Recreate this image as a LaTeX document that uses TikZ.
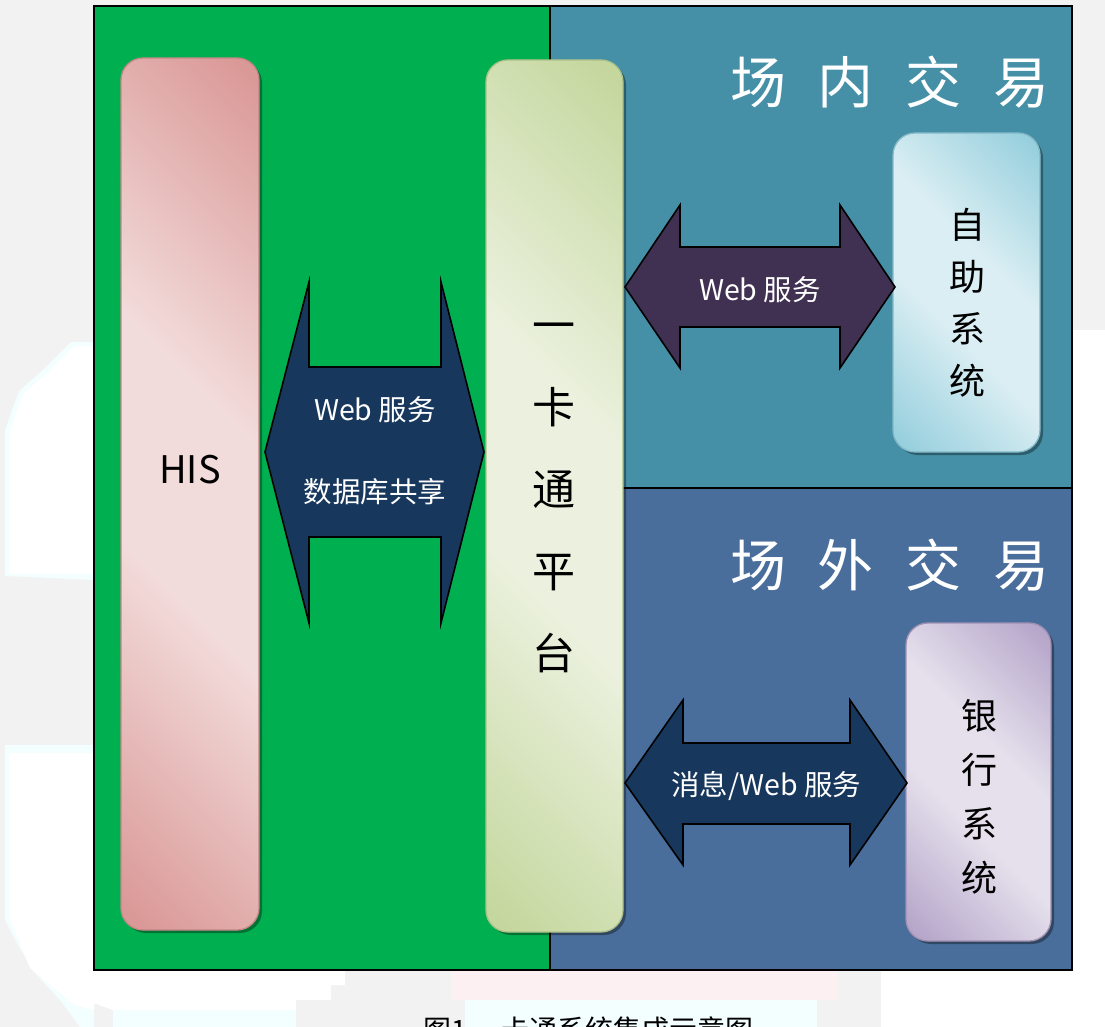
\documentclass[tikz,border=0pt]{standalone}
\usepackage{fontspec}
\setmainfont{Noto Sans CJK SC}
\usetikzlibrary{shadows}
\definecolor{bggray}{HTML}{F2F2F2}
\definecolor{zonegreen}{HTML}{00B050}
\definecolor{zoneteal}{HTML}{4590A6}
\definecolor{zoneblue}{HTML}{4A6E9B}
\definecolor{hisdark}{HTML}{D99694}
\definecolor{hislight}{HTML}{F2DCDB}
\definecolor{platdark}{HTML}{C3D69B}
\definecolor{platlight}{HTML}{EBF1DE}
\definecolor{selfdark}{HTML}{92CDDC}
\definecolor{selflight}{HTML}{DAEEF3}
\definecolor{bankdark}{HTML}{B2A1C7}
\definecolor{banklight}{HTML}{E5E0EC}
\definecolor{arrnavy}{HTML}{17375D}
\definecolor{arrpurple}{HTML}{403152}
\definecolor{blobpink}{HTML}{FDF0F3}
\definecolor{blobcyan}{HTML}{F3FEFE}
\pgfdeclareverticalshading{hisshade}{100bp}{color(0bp)=(hisdark); color(15bp)=(hisdark); color(42bp)=(hislight); color(58bp)=(hislight); color(85bp)=(hisdark); color(100bp)=(hisdark)}
\pgfdeclareverticalshading{platshade}{100bp}{color(0bp)=(platdark); color(15bp)=(platdark); color(42bp)=(platlight); color(58bp)=(platlight); color(85bp)=(platdark); color(100bp)=(platdark)}
\pgfdeclareverticalshading{selfshade}{100bp}{color(0bp)=(selfdark); color(15bp)=(selfdark); color(42bp)=(selflight); color(58bp)=(selflight); color(85bp)=(selfdark); color(100bp)=(selfdark)}
\pgfdeclareverticalshading{bankshade}{100bp}{color(0bp)=(bankdark); color(15bp)=(bankdark); color(42bp)=(banklight); color(58bp)=(banklight); color(85bp)=(bankdark); color(100bp)=(bankdark)}
\begin{document}
\begin{tikzpicture}[x=1pt,y=-1pt,
  cardbox/.style 2 args={draw=#2, line width=1.3pt, rounded corners=22pt, inner sep=0pt,
     shade, shading=#1, shading angle=-45,
     drop shadow={shadow xshift=3pt, shadow yshift=-3pt, opacity=0.35, fill=black}},
  dblarrow/.style={draw=black, line width=1.6pt, line join=miter},
  wlabel/.style={text=white, inner sep=0pt, font=\fontsize{28.5}{30}\selectfont},
  title/.style={text=white, inner sep=0pt, font=\fontsize{56}{60}\selectfont},
  blob/.style={fill=white, draw=none}]
\useasboundingbox (0,0) rectangle (1105,1027);
% background
\fill[bggray] (0,0) rectangle (1105,1027);
\fill[blobcyan] (5,576) -- (5,430) -- (19,391) -- (45,368) -- (71,342) -- (94,342) -- (94,580) -- cycle;
\fill[blob] (9,574) -- (9,434) -- (22,395) -- (48,372) -- (74,346) -- (94,346) -- (94,574) -- cycle;
\fill[blobcyan] (5,745) -- (94,745) -- (94,1027) -- (80,1027) -- (60,1000) -- (34,972) -- (18,945) -- (5,920) -- cycle;
\fill[blob] (9,753) -- (94,753) -- (94,1010) -- (75,1005) -- (50,985) -- (30,968) -- (20,943) -- (9,917) -- cycle;
\fill[blob] (60,970) -- (345,970) -- (345,985) -- (331,985) -- (331,1000) -- (296,1000) -- (296,1010) -- (113,1010) -- (85,1000) -- cycle;
\fill[blobcyan] (113,1010) rectangle (296,1027);
\fill[blobpink] (451,970) rectangle (838,1000);
\fill[blobcyan] (465,1000) rectangle (817,1027);
\fill[blob] (881,970) rectangle (1105,1027);
\fill[blob] (1072,330) rectangle (1105,1027);
% zones
\fill[zonegreen] (94,6) rectangle (550,970);
\fill[zoneteal] (550,6) rectangle (1072,488);
\fill[zoneblue] (550,488) rectangle (1072,970);
\draw[line width=1.3pt] (550,6) -- (550,970);
\draw[line width=1.3pt] (550,488) -- (1072,488);
\draw[line width=2pt] (94,6) rectangle (1072,970);
% titles
\node[title] (tin) at (890,82) {场\hspace{32pt}内\hspace{32pt}交\hspace{32pt}易};
\node[title] (tout) at (890,565) {场\hspace{32pt}外\hspace{32pt}交\hspace{32pt}易};
% cards
\node[cardbox={hisshade}{hisdark!90!black}, minimum width=138pt, minimum height=872pt] (his) at (190,494) {};
\node[cardbox={platshade}{platdark!90!black}, minimum width=137pt, minimum height=872pt] (plat) at (554.5,496) {};
\node[cardbox={selfshade}{selfdark!90!black}, minimum width=147pt, minimum height=319pt] (self) at (966.5,292.5) {};
\node[cardbox={bankshade}{bankdark!90!black}, minimum width=145pt, minimum height=318pt] (bank) at (978.5,782) {};
\node[inner sep=0pt, font=\fontsize{38}{40}\selectfont] (hislbl) at (190,470) {HIS};
\node[inner sep=0pt, align=center, font=\fontsize{43}{82}\selectfont] (platlbl) at (554,498) {一\\卡\\通\\平\\台};
\node[inner sep=0pt, align=center, font=\fontsize{36}{52}\selectfont] (selflbl) at (967,303) {自\\助\\系\\统};
\node[inner sep=0pt, align=center, font=\fontsize{36}{54}\selectfont] (banklbl) at (979,796.5) {银\\行\\系\\统};
% double arrows
\draw[dblarrow, fill=arrnavy] (265,452) -- (309,282) -- (309,367) -- (441,367) -- (441,282) -- (484,452) -- (441,623) -- (441,537) -- (309,537) -- (309,623) -- cycle;
\draw[dblarrow, fill=arrpurple] (625,287) -- (680,205) -- (680,247) -- (840,247) -- (840,205) -- (895,287) -- (840,368) -- (840,327) -- (680,327) -- (680,368) -- cycle;
\draw[dblarrow, fill=arrnavy] (625,783) -- (683,700) -- (683,743) -- (850,743) -- (850,700) -- (907,783) -- (850,865) -- (850,824) -- (683,824) -- (683,865) -- cycle;
\node[wlabel] (a1top) at (375,410) {Web 服务};
\node[wlabel] (a1bot) at (375,492) {数据库共享};
\node[wlabel] (a2) at (760,290) {Web 服务};
\node[wlabel] (a3) at (766,786) {消息/Web 服务};
% caption (cut off at the bottom edge, as in the reference)
\begin{scope}
\clip (0,0) rectangle (1105,1027);
\node[anchor=west, inner sep=0pt, font=\fontsize{28}{30}\selectfont] (cap) at (423,1030) {图1 一卡通系统集成示意图};
\end{scope}
\end{tikzpicture}
\end{document}
